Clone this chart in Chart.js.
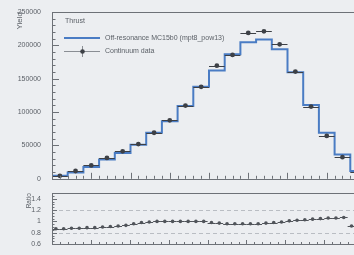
<!DOCTYPE html>
<html>
<head>
<meta charset="utf-8">
<script src="https://cdn.jsdelivr.net/npm/chart.js@4.4.1/dist/chart.umd.min.js"></script>
<style>
  html, body { margin: 0; padding: 0; width: 354px; height: 255px; overflow: hidden; background: #eceef1; }
  #wrap { position: relative; width: 372px; height: 255px; }
  #topBox { position: absolute; left: 0; top: 0; width: 372px; height: 186px; }
  #ratioBox { position: absolute; left: 0; top: 186px; width: 372px; height: 69px; }
</style>
</head>
<body>
<div id="wrap">
  <div id="topBox"><canvas id="yieldChart"></canvas></div>
  <div id="ratioBox"><canvas id="ratioChart"></canvas></div>
</div>
<script>
// Thrust histogram, bin edges
const binEdges = [0.60, 0.62, 0.64, 0.66, 0.68, 0.70, 0.72, 0.74, 0.76, 0.78, 0.80,
                  0.82, 0.84, 0.86, 0.88, 0.90, 0.92, 0.94, 0.96, 0.98, 1.00];
// off-resonance MC yield per bin
const mcYield = [4400, 9300, 17600, 29000, 38700, 51000, 69000, 86300, 109300, 137800,
                 162200, 186800, 204800, 208800, 194000, 159800, 110700, 69000, 36300, 11800];
// continuum data yield per bin
const dataYield = [4400, 11700, 20100, 31300, 41200, 52000, 69000, 87700, 109800, 137800,
                   169600, 185700, 218600, 221000, 201500, 160700, 108300, 64300, 32400, 10000];

// ratio panel (finer binning)
const ratioX = [0.605, 0.615, 0.625, 0.635, 0.645, 0.655, 0.665, 0.675, 0.685, 0.695,
                0.705, 0.715, 0.725, 0.735, 0.745, 0.755, 0.765, 0.775, 0.785, 0.795,
                0.805, 0.815, 0.825, 0.835, 0.845, 0.855, 0.865, 0.875, 0.885, 0.895,
                0.905, 0.915, 0.925, 0.935, 0.945, 0.955, 0.965, 0.975, 0.985];
const ratioVal = [0.87, 0.87, 0.88, 0.88, 0.89, 0.89, 0.90, 0.91, 0.92, 0.93,
                  0.96, 0.98, 0.99, 1.00, 1.00, 1.00, 1.00, 1.00, 1.00, 1.00,
                  0.98, 0.97, 0.96, 0.96, 0.96, 0.96, 0.96, 0.97, 0.98, 0.99,
                  1.01, 1.02, 1.03, 1.04, 1.05, 1.06, 1.06, 1.07, 0.92];

// tick labels
const xTicks = [0.60, 0.65, 0.70, 0.75, 0.80, 0.85, 0.90, 0.95, 1.00];
const yieldTicks = [0, 50000, 100000, 150000, 200000, 250000];
const ratioTicks = [0.6, 0.8, 1, 1.2, 1.4];
const ratioLines = [0.8, 1.2];

const textCol = '#5a5f66';
const font = { family: 'Liberation Sans', size: 7 };

// ROOT style frame: box, inward ticks (major + minor), dashed reference lines
const rootFrame = {
    id: 'rootFrame',
    beforeDatasetsDraw(chart, args, opts) {
        const ctx = chart.ctx, a = chart.chartArea;
        ctx.save();
        ctx.setLineDash([4, 3]);
        ctx.strokeStyle = '#b9bdc3';
        ctx.lineWidth = 1;
        (opts.refLines || []).forEach(v => {
            const y = Math.round(chart.scales.y.getPixelForValue(v)) + 0.5;
            ctx.beginPath();
            ctx.moveTo(a.left, y);
            ctx.lineTo(a.right, y);
            ctx.stroke();
        });
        ctx.restore();
    },
    afterDraw(chart, args, opts) {
        const ctx = chart.ctx, a = chart.chartArea;
        ctx.save();
        ctx.strokeStyle = '#6d7177';
        ctx.lineWidth = 1;
        ctx.strokeRect(Math.round(a.left) + 0.5, Math.round(a.top) + 0.5,
                       Math.round(a.right - a.left), Math.round(a.bottom - a.top));
        ['x', 'y'].forEach(id => {
            const s = chart.scales[id];
            const step = opts.minor[id];
            const n = Math.round((s.max - s.min) / step);
            const majors = s.ticks.map(t => t.value);
            for (let k = 0; k <= n; k++) {
                const v = s.min + k * step;
                const isMajor = majors.some(m => Math.abs(m - v) < step / 10);
                const len = isMajor ? opts.len[id] : opts.len[id] / 2;
                const p = Math.round(s.getPixelForValue(v)) + 0.5;
                ctx.beginPath();
                if (id === 'x') {
                    ctx.moveTo(p, a.bottom);
                    ctx.lineTo(p, a.bottom - len);
                } else {
                    ctx.moveTo(a.left, p);
                    ctx.lineTo(a.left + len, p);
                }
                ctx.stroke();
            }
        });
        ctx.restore();
    }
};

// horizontal error bars under the points of a dataset
const xErrors = {
    id: 'xErrors',
    beforeDatasetDraw(chart, args) {
        const ds = chart.data.datasets[args.index];
        if (!ds.xErr) return;
        const ctx = chart.ctx, sx = chart.scales.x;
        ctx.save();
        ctx.strokeStyle = ds.backgroundColor;
        ctx.lineWidth = 1;
        args.meta.data.forEach((el, j) => {
            const xv = ds.data[j].x;
            const y = Math.round(el.y) + 0.5;
            ctx.beginPath();
            ctx.moveTo(sx.getPixelForValue(xv - ds.xErr), y);
            ctx.lineTo(sx.getPixelForValue(xv + ds.xErr), y);
            ctx.stroke();
        });
        ctx.restore();
    }
};

// legend drawn ROOT-like inside the frame
const rootLegend = {
    id: 'rootLegend',
    afterDraw(chart) {
        const ctx = chart.ctx, a = chart.chartArea;
        const x0 = a.left + 12, y0 = a.top + 9;
        ctx.save();
        ctx.font = '7px "Liberation Sans"';
        ctx.fillStyle = textCol;
        ctx.textBaseline = 'middle';
        ctx.fillText('Thrust', x0 + 1, y0);
        ctx.strokeStyle = chart.data.datasets[1].borderColor;
        ctx.lineWidth = 2;
        ctx.beginPath();
        ctx.moveTo(x0, y0 + 17);
        ctx.lineTo(x0 + 36, y0 + 17);
        ctx.stroke();
        ctx.fillText('Off-resonance MC15b0 (mpt8_pow13)', x0 + 41, y0 + 17);
        const dcol = chart.data.datasets[0].backgroundColor;
        ctx.strokeStyle = '#8a8e94';
        ctx.lineWidth = 1;
        ctx.beginPath();
        ctx.moveTo(x0, y0 + 30.5);
        ctx.lineTo(x0 + 36, y0 + 30.5);
        ctx.moveTo(x0 + 18.5, y0 + 25);
        ctx.lineTo(x0 + 18.5, y0 + 36);
        ctx.stroke();
        ctx.fillStyle = dcol;
        ctx.beginPath();
        ctx.arc(x0 + 18.5, y0 + 30.5, 2.3, 0, Math.PI * 2);
        ctx.fill();
        ctx.fillStyle = textCol;
        ctx.fillText('Continuum data', x0 + 41, y0 + 30);
        ctx.restore();
    }
};

// step outline of the MC histogram, built from the bin arrays
const mcSteps = [{ x: binEdges[0], y: 0 }];
mcYield.forEach((v, i) => mcSteps.push({ x: binEdges[i], y: v }));
mcSteps.push({ x: binEdges[binEdges.length - 1], y: mcYield[mcYield.length - 1] });

const dataPoints = dataYield.map((v, i) => ({ x: (binEdges[i] + binEdges[i + 1]) / 2, y: v }));
const ratioPoints = ratioVal.map((v, i) => ({ x: ratioX[i], y: v }));

const xScale = (showLabels, h) => ({
    type: 'linear',
    min: 0.60,
    max: 1.00,
    grid: { display: false },
    border: { display: false },
    afterBuildTicks: s => { s.ticks = xTicks.map(v => ({ value: v })); },
    afterFit: s => { s.height = h; },
    ticks: {
        display: showLabels,
        color: textCol,
        font: font,
        padding: 2,
        maxRotation: 0,
        callback: v => v.toFixed(2)
    }
});

new Chart(document.getElementById('yieldChart'), {
    data: {
        datasets: [
            {
                type: 'scatter',
                label: 'Continuum data',
                data: dataPoints,
                xErr: 0.01,
                backgroundColor: '#3d4046',
                borderWidth: 0,
                pointRadius: 2.4
            },
            {
                type: 'line',
                label: 'Off-resonance MC15b0 (mpt8_pow13)',
                data: mcSteps,
                stepped: 'before',
                borderColor: '#4a7cc4',
                borderWidth: 2,
                pointRadius: 0,
                fill: false
            }
        ]
    },
    options: {
        responsive: true,
        maintainAspectRatio: false,
        animation: false,
        events: [],
        layout: { padding: { top: 12, right: 6, left: 0, bottom: 0 } },
        scales: {
            x: xScale(false, 4),
            y: {
                type: 'linear',
                min: 0,
                max: 250000,
                grid: { display: false },
                border: { display: false },
                afterBuildTicks: s => { s.ticks = yieldTicks.map(v => ({ value: v })); },
                afterFit: s => { s.width = 52; },
                ticks: { color: textCol, font: font, padding: 3, callback: v => String(v) },
                title: {
                    display: true,
                    text: 'Yield',
                    align: 'end',
                    color: textCol,
                    font: { family: 'Liberation Sans', size: 8 },
                    padding: { top: 15, bottom: 0 }
                }
            }
        },
        plugins: {
            legend: { display: false },
            tooltip: { enabled: false },
            rootFrame: { minor: { x: 0.01, y: 10000 }, len: { x: 6, y: 7 } }
        }
    },
    plugins: [rootFrame, xErrors, rootLegend]
});

new Chart(document.getElementById('ratioChart'), {
    data: {
        datasets: [
            {
                type: 'scatter',
                label: 'Ratio',
                data: ratioPoints,
                xErr: 0.005,
                backgroundColor: '#50545a',
                borderWidth: 0,
                pointRadius: 1.8
            }
        ]
    },
    options: {
        responsive: true,
        maintainAspectRatio: false,
        animation: false,
        events: [],
        layout: { padding: { top: 2, right: 6, left: 0, bottom: 0 } },
        scales: {
            x: xScale(true, 11),
            y: {
                type: 'linear',
                min: 0.6,
                max: 1.5,
                grid: { display: false },
                border: { display: false },
                afterBuildTicks: s => { s.ticks = ratioTicks.map(v => ({ value: v })); },
                afterFit: s => { s.width = 52; },
                ticks: { color: textCol, font: font, padding: 3, callback: v => String(v) },
                title: {
                    display: true,
                    text: 'Ratio',
                    align: 'end',
                    color: textCol,
                    font: { family: 'Liberation Sans', size: 6.5 },
                    padding: { top: 25, bottom: 0 }
                }
            }
        },
        plugins: {
            legend: { display: false },
            tooltip: { enabled: false },
            rootFrame: { minor: { x: 0.01, y: 0.05 }, len: { x: 4, y: 5 }, refLines: ratioLines }
        }
    },
    plugins: [rootFrame, xErrors]
});
</script>
</body>
</html>
